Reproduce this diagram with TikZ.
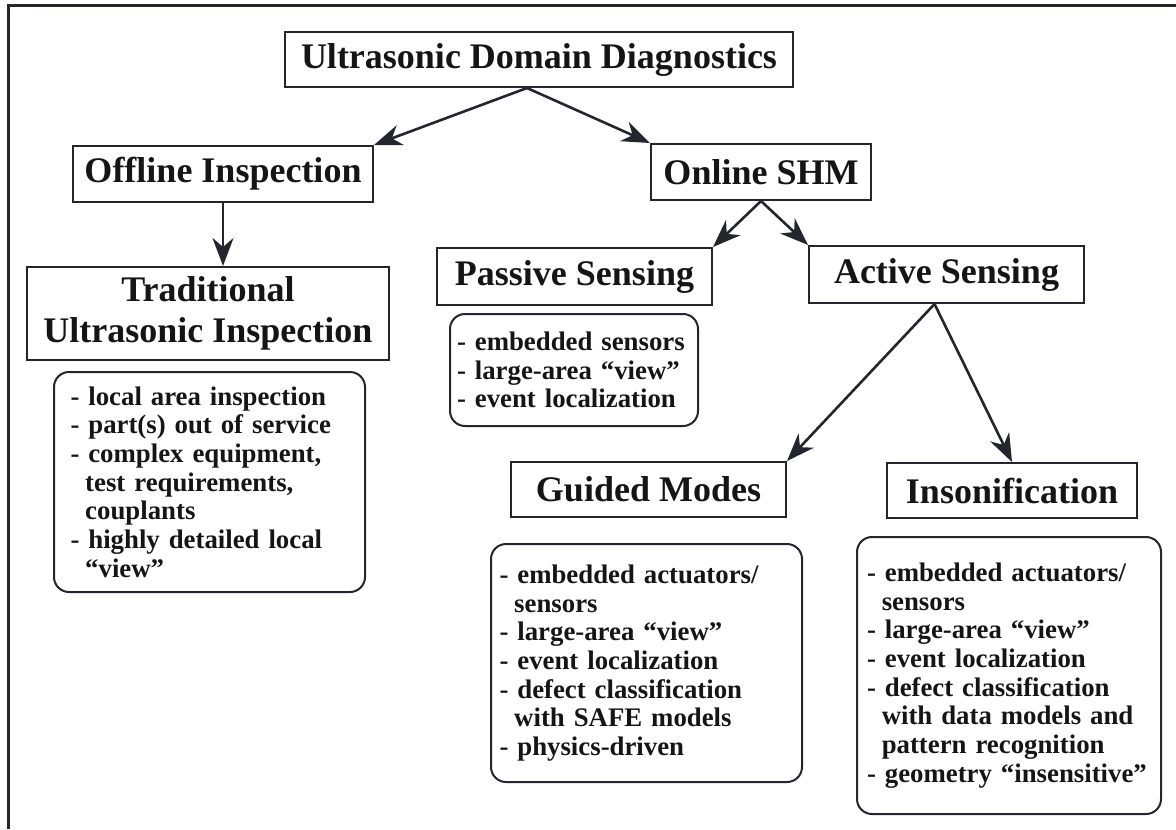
\documentclass[tikz,border=0pt]{standalone}
\usepackage{fontspec}
\setmainfont{Liberation Serif}
\usetikzlibrary{arrows.meta}
\definecolor{ink}{HTML}{25252E}
\definecolor{txt}{HTML}{151515}
\newcommand{\ind}{\hspace*{0.55em}}
\begin{document}
\begin{tikzpicture}[x=0.5pt,y=-0.5pt,
  hbox/.style={draw=ink,line width=1pt,inner sep=0pt,font=\fontsize{18}{20.5}\selectfont\bfseries,text=txt,align=center},
  lbox/.style={draw=ink,line width=1pt,rounded corners=7.5pt,inner sep=0pt,font=\fontsize{13.4}{14.35}\selectfont\bfseries,text=txt,align=left},
  arr/.style={draw=ink,line width=1.3pt,-{Stealth[length=14pt,width=10.5pt,inset=4.5pt]}}]
\useasboundingbox (0,0) rectangle (1176,829);
\draw[ink,line width=1.5pt] (8,829) -- (8,6) -- (1176,6);

\node[hbox,minimum width=254pt,minimum height=27.5pt] (top) at (539,59.5) {Ultrasonic Domain Diagnostics};
\node[hbox,minimum width=150pt,minimum height=28pt] (off) at (223,174) {Offline Inspection};
\node[hbox,minimum width=110pt,minimum height=28pt] (onl) at (761,172) {Online SHM};
\node[hbox,minimum width=181pt,minimum height=46.5pt] (trad) at (208,313.5) {Traditional\\Ultrasonic Inspection};
\node[lbox,text width=139pt,minimum width=155.5pt,minimum height=110pt] (b1) at (209.5,482) {- local area inspection\\- part(s) out of service\\- complex equipment,\\\ind test requirements,\\\ind couplants\\- highly detailed local\\\ind “view”};
\node[hbox,minimum width=137.5pt,minimum height=28.5pt] (pas) at (574.5,276.5) {Passive Sensing};
\node[lbox,text width=117pt,minimum width=124pt,minimum height=56pt] (b2) at (574,370) {- embedded sensors\\- large-area “view”\\- event localization};
\node[hbox,minimum width=137.5pt,minimum height=28.5pt] (act) at (946.5,274.5) {Active Sensing};
\node[hbox,minimum width=137.5pt,minimum height=27.5pt] (gm) at (648.5,489.5) {Guided Modes};
\node[lbox,text width=147pt,minimum width=155.5pt,minimum height=119pt] (b3) at (646.5,663) {- embedded actuators/\\\ind sensors\\- large-area “view”\\- event localization\\- defect classification\\\ind with SAFE models\\- physics-driven};
\node[hbox,minimum width=125pt,minimum height=27.5pt] (ins) at (1012,490.5) {Insonification};
\node[lbox,text width=142pt,minimum width=152pt,minimum height=138.5pt] (b4) at (1009,675.5) {- embedded actuators/\\\ind sensors\\- large-area “view”\\- event localization\\- defect classification\\\ind with data models and\\\ind pattern recognition\\- geometry “insensitive”};

\coordinate (ta) at ([xshift=-6pt]top.south);
\coordinate (aa) at ([xshift=-6pt]act.south);
\draw[arr] (ta) -- (off.north east);
\draw[arr] (ta) -- (onl.north west);
\draw[arr] (off.south) -- (off.south |- trad.north);
\draw[arr] (onl.south) -- (pas.north east);
\draw[arr] (onl.south) -- (act.north west);
\draw[arr] (aa) -- (gm.north east);
\draw[arr] (aa) -- (ins.north);
\end{tikzpicture}
\end{document}
